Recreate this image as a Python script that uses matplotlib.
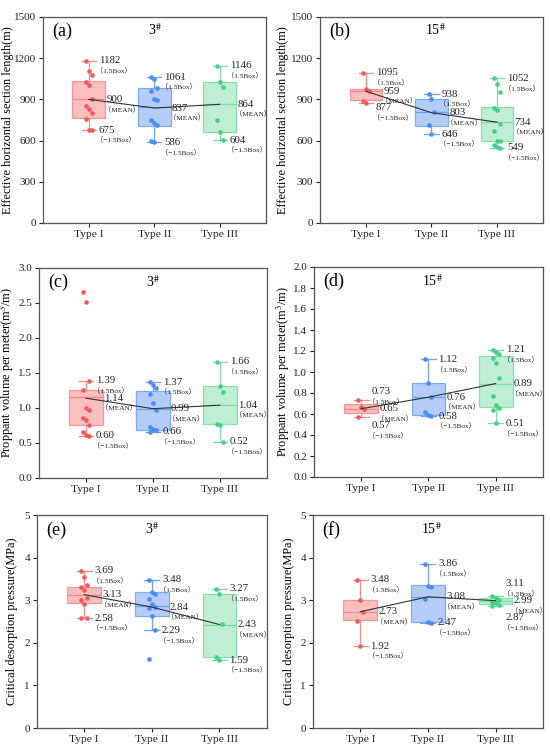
import matplotlib
matplotlib.use("Agg")
import matplotlib.pyplot as plt
import numpy as np

plt.rcParams['font.family'] = ['Liberation Serif', 'Noto Sans CJK SC', 'DejaVu Sans']
plt.rcParams['mathtext.fontset'] = 'stix'

categories = ['Type I', 'Type II', 'Type III']

# ---- panel (a) 3# effective horizontal section length
a_lo = [675, 586, 604]
a_q1 = [762, 706, 665]
a_med = [900, 842, 864]
a_q3 = [1035, 981, 1025]
a_hi = [1182, 1061, 1146]
a_mean = [900, 837, 864]
a_pts = [[1182, 1105, 1080, 1030, 1005, 900, 855, 830, 800, 760, 680, 675],
         [1061, 1050, 980, 960, 900, 895, 750, 730, 710, 595, 586],
         [1146, 1025, 990, 750, 665, 604]]

# ---- panel (b) 15# effective horizontal section length
b_lo = [877, 646, 549]
b_q1 = [894, 708, 598]
b_med = [962, 806, 734]
b_q3 = [974, 901, 846]
b_hi = [1095, 938, 1052]
b_mean = [959, 803, 734]
b_pts = [[1095, 975, 960, 890, 877],
         [938, 900, 810, 710, 646],
         [1052, 1010, 950, 840, 825, 720, 670, 600, 595, 570, 555, 549]]

# ---- panel (c) 3# proppant volume per meter
c_lo = [0.60, 0.66, 0.52]
c_q1 = [0.755, 0.683, 0.77]
c_med = [1.15, 0.99, 1.04]
c_q3 = [1.257, 1.247, 1.31]
c_hi = [1.39, 1.37, 1.66]
c_mean = [1.14, 0.99, 1.04]
c_pts = [[2.65, 2.51, 1.39, 1.26, 1.00, 0.97, 0.85, 0.83, 0.75, 0.65, 0.62, 0.60],
         [1.37, 1.33, 1.28, 1.20, 1.07, 0.97, 0.73, 0.70, 0.68, 0.66],
         [1.66, 1.31, 1.23, 0.77, 0.76, 0.52]]

# ---- panel (d) 15# proppant volume per meter
d_lo = [0.57, 0.58, 0.51]
d_q1 = [0.605, 0.59, 0.663]
d_med = [0.65, 0.76, 0.89]
d_q3 = [0.694, 0.90, 1.15]
d_hi = [0.73, 1.12, 1.21]
d_mean = [0.65, 0.76, 0.89]
d_pts = [[0.73, 0.67, 0.65, 0.57],
         [1.12, 0.90, 0.76, 0.62, 0.59, 0.58],
         [1.21, 1.19, 1.17, 1.13, 1.09, 0.94, 0.77, 0.69, 0.66, 0.64, 0.51]]

# ---- panel (e) 3# critical desorption pressure
e_lo = [2.58, 2.29, 1.59]
e_q1 = [2.945, 2.64, 1.66]
e_med = [3.13, 2.86, 2.43]
e_q3 = [3.32, 3.19, 3.15]
e_hi = [3.69, 3.48, 3.27]
e_mean = [3.13, 2.84, 2.43]
e_pts = [[3.69, 3.54, 3.35, 3.30, 3.25, 3.05, 3.00, 2.90, 2.58, 2.58],
         [3.48, 3.20, 3.15, 3.02, 2.90, 2.85, 2.82, 2.64, 2.29, 1.61],
         [3.27, 3.15, 2.44, 1.66, 1.60]]

# ---- panel (f) 15# critical desorption pressure
f_lo = [1.92, 2.47, 2.87]
f_q1 = [2.54, 2.48, 2.92]
f_med = [2.73, 3.08, 2.99]
f_q3 = [3.00, 3.35, 3.06]
f_hi = [3.48, 3.86, 3.11]
f_mean = [2.73, 3.08, 2.99]
f_pts = [[3.48, 3.00, 2.73, 2.52, 1.92],
         [3.86, 3.33, 3.30, 3.02, 2.48, 2.47],
         [3.11, 3.05, 3.00, 2.97, 2.93, 2.88, 2.87]]

fills = ['#f9b3b3', '#a6c5f7', '#b3ebcc']
edges = ['#f58a8a', '#6fa0f0', '#7cdba6']
dots = ['#f05a5a', '#4a8cf0', '#48cf86']

panels = [
    ('(a)', r'3$^{\#}$', 'Effective horizontal section length(m)', (0, 1500), np.arange(0, 1501, 300), '{:.0f}',
     a_lo, a_q1, a_med, a_q3, a_hi, a_mean, a_pts, [0.078, 0.7027, 0.405, 0.2747], -0.13),
    ('(b)', r'15$^{\#}$', 'Effective horizontal section length(m)', (0, 1500), np.arange(0, 1501, 300), '{:.0f}',
     b_lo, b_q1, b_med, b_q3, b_hi, b_mean, b_pts, [0.582, 0.7027, 0.405, 0.2747], -0.139),
    ('(c)', r'3$^{\#}$', r'Proppant volume per meter(m$^{3}$/m)', (0, 3.0), np.arange(0, 3.01, 0.5), '{:.1f}',
     c_lo, c_q1, c_med, c_q3, c_hi, c_mean, c_pts, [0.071, 0.3627, 0.414, 0.28], -0.10),
    ('(d)', r'15$^{\#}$', r'Proppant volume per meter(m$^{3}$/m)', (0, 2.0), np.arange(0, 2.01, 0.2), '{:.1f}',
     d_lo, d_q1, d_med, d_q3, d_hi, d_mean, d_pts, [0.571, 0.364, 0.416, 0.28], -0.096),
    ('(e)', r'3$^{\#}$', 'Critical desorption pressure(MPa)', (0, 5), np.arange(0, 5.01, 1), '{:.0f}',
     e_lo, e_q1, e_med, e_q3, e_hi, e_mean, e_pts, [0.067, 0.0293, 0.418, 0.284], -0.083),
    ('(f)', r'15$^{\#}$', 'Critical desorption pressure(MPa)', (0, 5), np.arange(0, 5.01, 1), '{:.0f}',
     f_lo, f_q1, f_med, f_q3, f_hi, f_mean, f_pts, [0.569, 0.0293, 0.418, 0.284], -0.078),
]

fig = plt.figure(figsize=(5.5, 7.5), dpi=100)

for (letter, title, ylabel, ylim, yticks, fmt, lo, q1, med, q3, hi, mean, pts, rect, labx) in panels:
    ax = fig.add_axes(rect)
    pos = np.arange(1, len(categories) + 1)
    rng = ylim[1] - ylim[0]
    for i in range(len(categories)):
        st = [dict(whislo=lo[i], q1=q1[i], med=med[i], q3=q3[i], whishi=hi[i], fliers=[])]
        ax.bxp(st, positions=[pos[i]], widths=0.5, patch_artist=True, showfliers=False,
               boxprops=dict(facecolor=fills[i], edgecolor=edges[i], linewidth=0.9, alpha=0.85),
               whiskerprops=dict(color=edges[i], linewidth=0.9),
               capprops=dict(color=edges[i], linewidth=0.9),
               medianprops=dict(color=edges[i], linewidth=0.9), capwidths=0.22)
        p = np.asarray(pts[i], dtype=float)
        offs = np.array([((k % 3) - 1) * 0.045 for k in range(len(p))])
        ax.scatter(pos[i] + offs, p, s=11, color=dots[i], zorder=4, linewidths=0)
    ax.plot(pos, mean, color='#333333', lw=0.8, zorder=5)

    d = 0.08 * rng
    fm = '{:.0f}' if rng > 100 else '{:.2f}'
    for i in range(len(categories)):
        hy = max(hi[i], mean[i] + d)
        ly = min(lo[i], mean[i] - d)
        for val, yy, sub, dx in [(hi[i], hy, '（1.5Box）', 0.15),
                                 (mean[i], mean[i], '（MEAN）', 0.27),
                                 (lo[i], ly, '（−1.5Box）', 0.15)]:
            ax.annotate(fm.format(val), (pos[i] + dx, yy), ha='left', va='center',
                        fontsize=7.8, color='#222222', zorder=7)
            ax.annotate(sub, (pos[i] + dx, yy), xytext=(-2, -6.5), textcoords='offset points',
                        ha='left', va='center', fontsize=5.2, color='#222222', zorder=7)

    ax.set_xlim(0.3, 3.7)
    ax.set_ylim(*ylim)
    ax.set_yticks(yticks)
    ax.set_yticklabels([fmt.format(t) for t in yticks])
    ax.set_xticks(pos)
    ax.set_xticklabels(categories)
    ax.tick_params(axis='both', direction='out', length=3, width=0.8, pad=2, colors='#222222')
    ax.tick_params(axis='y', labelsize=8)
    ax.tick_params(axis='x', labelsize=8.2)
    for s in ax.spines.values():
        s.set_color('#555555')
        s.set_linewidth(0.9)
    ax.set_ylabel(ylabel, fontsize=8.8)
    ax.yaxis.set_label_coords(labx, 0.5)
    ax.text(0.04, 0.93, letter, transform=ax.transAxes, fontsize=13, va='center', ha='left')
    ax.text(0.47, 0.935, title, transform=ax.transAxes, fontsize=10, va='center', ha='left')

fig.savefig('out.png', dpi=100)
